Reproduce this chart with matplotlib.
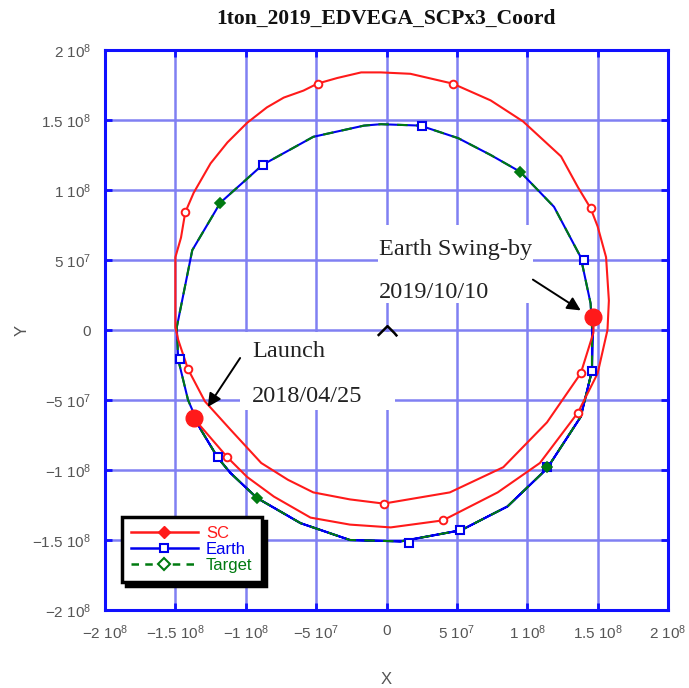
import matplotlib
matplotlib.use("Agg")
import numpy as np
import matplotlib.pyplot as plt
from matplotlib.lines import Line2D
from matplotlib.path import Path
from matplotlib.patches import Rectangle

plt.rcParams['mathtext.fontset'] = 'custom'
plt.rcParams['mathtext.rm'] = 'Liberation Sans'
plt.rcParams['mathtext.it'] = 'Liberation Sans'

MKM = 1e6  # values below are in millions of km

# Spacecraft trajectory, launch -> swing-by
sc_x = [-137, -113, -99, -80, -54, -26, 3, 40, 79, 109, 136, 150, 157, 158, 156, 150,
        145, 136, 124, 97, 74, 47, 17, -4, -18, -35, -49, -59, -73, -85, -99, -113,
        -125, -137, -143, -146, -150, -150, -148, -141, -129, -111, -89, -70, -52,
        -26, -2, 45, 83, 114, 138, 147, 147]
sc_y = [-63, -91, -105, -119, -134, -139, -141, -136, -116, -95, -59, -31, 0, 21, 52, 74,
        87, 102, 124, 149, 164, 176, 183, 184, 184, 180, 176, 171, 166, 159, 148, 134,
        119, 98, 84, 66, 52, 2, -7, -28, -51, -71, -95, -107, -116,
        -121, -124, -116, -98, -66, -31, -2, 9]
sc_mk_x = [-113, 40, 136, 145, 47, -49, -143, -141, -2, 138]
sc_mk_y = [-91, -136, -59, 87, 176, 176, 84, -28, -124, -31]

# Earth position over the same period
earth_x = [-137, -132, -120, -111, -92, -61, -26, 10, 53, 86, 114, 138, 146, 146, 145,
           138, 119, 95, 74, 51, 24, -4, -16, -52, -88, -118, -138, -149, -148, -141,
           -132, -120, -111, -92, -61, -26, 10, 53, 86, 114, 138, 146, 147]
earth_y = [-63, -71, -91, -102, -120, -138, -150, -151, -143, -126, -99, -62, -29, 2, 19,
           52, 88, 113, 125, 137, 146, 147, 146, 138, 118, 91, 57, 2, -21, -50,
           -71, -91, -102, -120, -138, -150, -151, -143, -126, -99, -62, -29, 9]
earth_mk_x = [-88, 25, 140, 146, 114, 52, 16, -120, -147]
earth_mk_y = [118, 146, 50, -29, -98, -143, -152, -91, -21]

# Target orbit
target_x = [146, 145, 138, 119, 95, 74, 51, 24, -4, -16, -52, -88, -118, -138, -149,
            -148, -141, -132, -120, -111, -92, -61, -26, 10, 53, 86, 114, 138, 146, 146]
target_y = [2, 19, 52, 88, 113, 125, 137, 146, 147, 146, 138, 118, 91, 57, 2,
            -21, -50, -71, -91, -102, -120, -138, -150, -151, -143, -126, -99, -62, -29, 2]
target_mk_x = [-118, 95, 114, -92]
target_mk_y = [91, 113, -98, -120]

launch_xy = (-137, -63)
swingby_xy = (147, 9)
sun_xy = (0, 0)

tick_values = [-2e8, -1.5e8, -1e8, -5e7, 0, 5e7, 1e8, 1.5e8, 2e8]
tick_labels = ['\u22122 10$^{8}$', '\u22121.5 10$^{8}$', '\u22121 10$^{8}$', '\u22125 10$^{7}$', '0',
               '5 10$^{7}$', '1 10$^{8}$', '1.5 10$^{8}$', '2 10$^{8}$']

RED = '#ff1a1a'
BLUE = '#0000ee'
GREEN = '#007a10'
GRID = '#8080f2'
FRAME = '#1010ff'
TICKCOL = '#555555'

def mkm(v):
    return np.asarray(v, dtype=float) * MKM

fig = plt.figure(figsize=(6.89, 6.88), dpi=100)
ax = fig.add_axes([105 / 689, 78 / 688, 563 / 689, 560 / 688])

ax.set_xlim(-2e8, 2e8)
ax.set_ylim(-2e8, 2e8)
ax.set_xticks(tick_values)
ax.set_yticks(tick_values)
ax.set_xticklabels(tick_labels, family=['Liberation Sans Narrow', 'Liberation Sans'],
                   fontsize=11, color=TICKCOL)
ax.set_yticklabels(tick_labels, family=['Liberation Sans Narrow', 'Liberation Sans'],
                   fontsize=11, color=TICKCOL)
ax.tick_params(direction='in', length=5, width=2, color=FRAME, top=True, right=True,
               pad=10)
ax.grid(True, color=GRID, lw=1.8, zorder=0)
ax.set_axisbelow(True)
for sp in ax.spines.values():
    sp.set_color(FRAME)
    sp.set_linewidth(2.2)

# white panels behind the annotation text
ax.add_patch(Rectangle((0.240, 0.357), 0.275, 0.139, transform=ax.transAxes,
                       facecolor='white', edgecolor='none', zorder=1))
ax.add_patch(Rectangle((0.485, 0.548), 0.275, 0.140, transform=ax.transAxes,
                       facecolor='white', edgecolor='none', zorder=1))

# orbits
ax.plot(mkm(earth_x), mkm(earth_y), color=BLUE, lw=1.5, zorder=3)
ax.plot(mkm(target_x), mkm(target_y), color=GREEN, lw=1.5, ls=(0, (5, 4)), zorder=4)
ax.plot(mkm(sc_x), mkm(sc_y), color=RED, lw=1.5, zorder=5)

ax.plot(mkm(earth_mk_x), mkm(earth_mk_y), ls='none', marker='s', ms=6,
        mfc='white', mec=BLUE, mew=1.5, zorder=6)
ax.plot(mkm(target_mk_x), mkm(target_mk_y), ls='none', marker='D', ms=5.5,
        mfc=GREEN, mec=GREEN, mew=1.2, zorder=6)
ax.plot(mkm(sc_mk_x), mkm(sc_mk_y), ls='none', marker='o', ms=5.5,
        mfc='white', mec=RED, mew=1.4, zorder=7)

ax.plot(*mkm(launch_xy), marker='o', ms=12, color=RED, zorder=8)
ax.plot(*mkm(swingby_xy), marker='o', ms=12, color=RED, zorder=8)

# sun at the origin
sun_marker = Path([(-1, -0.55), (-0.7, -0.25), (0, 0.45), (0.7, -0.25), (1, -0.6)],
                  [Path.MOVETO, Path.LINETO, Path.LINETO, Path.LINETO, Path.LINETO])
ax.plot(*sun_xy, marker=sun_marker, ms=14, mfc='none', mec='black', mew=1.8, zorder=8)

# annotations
ann_font = dict(family=['Liberation Serif', 'DejaVu Serif'], fontsize=17.5, color='#222222')
ax.text(0.486, 0.634, 'Earth Swing-by', transform=ax.transAxes, va='baseline',
        ha='left', zorder=9, **ann_font)
ax.text(0.486, 0.557, '2019/10/10', transform=ax.transAxes, va='baseline',
        ha='left', zorder=9, **ann_font)
ax.text(0.261, 0.452, 'Launch', transform=ax.transAxes, va='baseline',
        ha='left', zorder=9, **ann_font)
ax.text(0.261, 0.371, '2018/04/25', transform=ax.transAxes, va='baseline',
        ha='left', zorder=9, **ann_font)

arrow = dict(arrowstyle='-|>', color='black', lw=1.4, mutation_scale=20,
             shrinkA=0, shrinkB=0)
ax.annotate('', xy=(-127e6, -55e6), xytext=(-104e6, -20e6), arrowprops=arrow, zorder=9)
ax.annotate('', xy=(138e6, 14e6), xytext=(104e6, 36e6), arrowprops=arrow, zorder=9)

# legend
handles = [
    Line2D([], [], color=RED, lw=1.8, marker='D', ms=6, mfc=RED, mec=RED),
    Line2D([], [], color=BLUE, lw=1.8, marker='s', ms=6, mfc='white', mec=BLUE, mew=1.5),
    Line2D([], [], color=GREEN, lw=1.8, ls=(0, (3, 2.5)), marker='D', ms=6,
           mfc='white', mec=GREEN, mew=1.5),
]
leg = ax.legend(handles, ['SC', 'Earth', 'Target'], loc='lower left',
                bbox_to_anchor=(0.03, 0.05), frameon=True, fancybox=False,
                shadow={'color': 'black', 'alpha': 1.0, 'ox': 3, 'oy': -3},
                prop={'family': ['Liberation Sans Narrow', 'Liberation Sans'], 'size': 12},
                handlelength=4.0, handletextpad=0.5, labelspacing=0.05,
                borderpad=0.55, borderaxespad=0)
leg.get_frame().set_edgecolor('black')
leg.get_frame().set_linewidth(2.5)
leg.set_zorder(10)
for txt, col in zip(leg.get_texts(), [RED, BLUE, GREEN]):
    txt.set_color(col)

ax.set_xlabel('X', family=['Liberation Sans'], fontsize=12, color=TICKCOL, labelpad=21)
ax.set_ylabel('Y', family=['Liberation Sans'], fontsize=12, color=TICKCOL, labelpad=2)

fig.text(386.5 / 689, 1 - 24 / 688, '1ton_2019_EDVEGA_SCPx3_Coord', ha='center',
         va='baseline', family=['Liberation Serif', 'DejaVu Serif'], fontweight='bold',
         fontsize=15.5, color='#111111')

fig.savefig('out.png', dpi=100)
